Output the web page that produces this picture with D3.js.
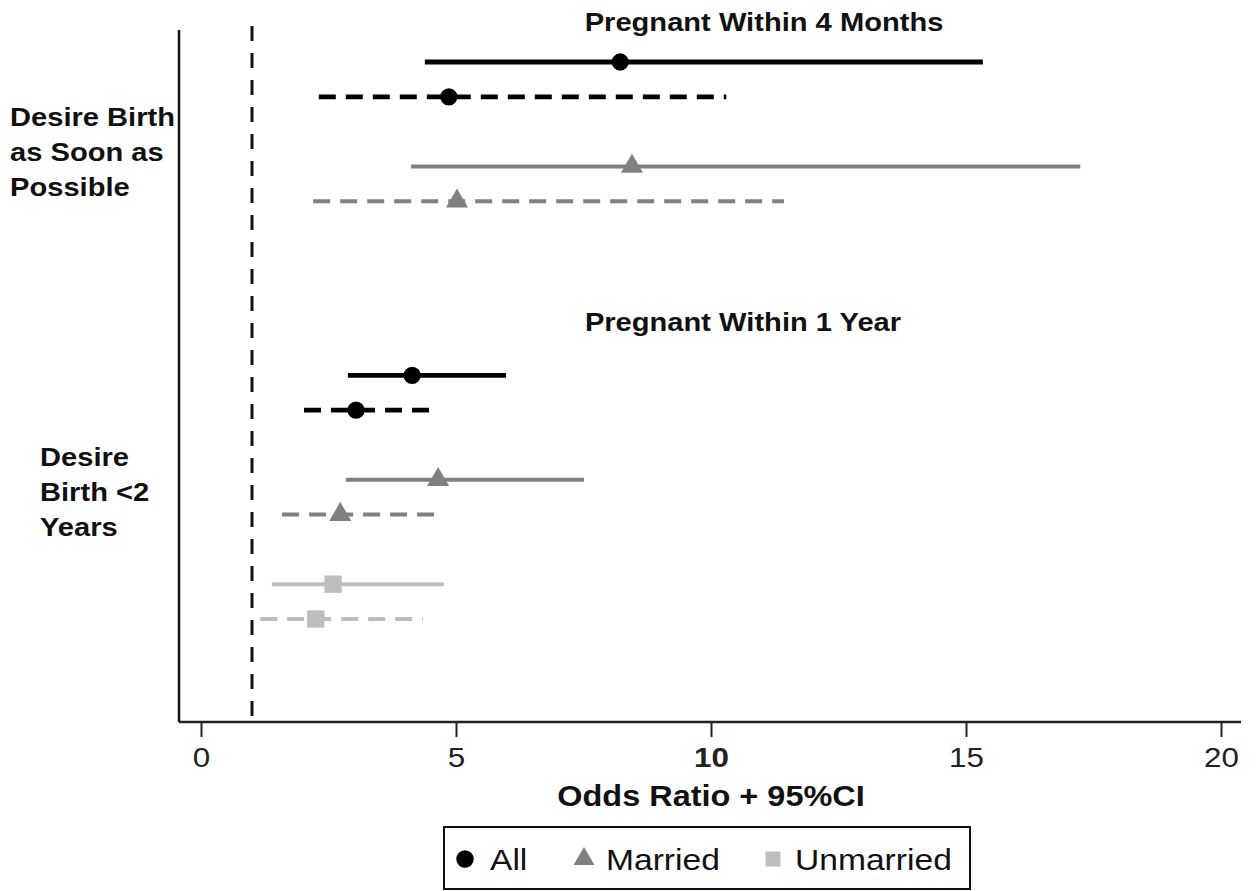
<!DOCTYPE html>
<html>
<head>
<meta charset="utf-8">
<script src="https://cdn.jsdelivr.net/npm/d3@7"></script>
<style>
  body { margin: 0; background: #fff; }
  text { font-family: "Liberation Sans", Arial, sans-serif; }
</style>
</head>
<body>
<div id="container"></div>
<script>
// DATA
const rowSlots = ['r0', 'r1', 's2', 'r2', 'r3', 's5', 's6', 's7', 's8', 'r4', 'r5', 's11', 'r6', 'r7', 's14', 'r8', 'r9'];
const rowIds = ['r0', 'r1', 'r2', 'r3', 'r4', 'r5', 'r6', 'r7', 'r8', 'r9'];
const rowGroup = ['All', 'All', 'Married', 'Married', 'All', 'All', 'Married', 'Married', 'Unmarried', 'Unmarried'];
const rowDashed = [false, true, false, true, false, true, false, true, false, true];
const oddsRatio = [8.22, 4.86, 8.45, 5.02, 4.14, 3.04, 4.65, 2.73, 2.59, 2.25];
const ciLow = [4.39, 2.31, 4.12, 2.2, 2.88, 2.02, 2.84, 1.59, 1.39, 1.16];
const ciHigh = [15.33, 10.3, 17.24, 11.43, 5.98, 4.6, 7.51, 4.7, 4.76, 4.35];
const xTicks = [0, 5, 10, 15, 20];
const groups = ['All', 'Married', 'Unmarried'];
const groupColors = ['#000000', '#808080', '#bdbdbd'];
const sectionTitles = ['Pregnant Within 4 Months', 'Pregnant Within 1 Year'];
const sideLabels = [['Desire Birth', 'as Soon as', 'Possible'], ['Desire', 'Birth <2', 'Years']];

const width = 1257, height = 891;
const SX = 1.12; // the original font runs wider than Liberation Sans
const x = d3.scaleLinear([0, 20], [201, 1221]);
const y = d3.scalePoint().domain(rowSlots).range([62, 619]);
const color = d3.scaleOrdinal(groups, groupColors);
const symbol = d3.scaleOrdinal(groups, [d3.symbolCircle, d3.symbolTriangle, d3.symbolSquare]);
const symSize = d3.scaleOrdinal(groups, [235, 210, 300]);

const rows = rowIds.map((id, i) => ({
  id, group: rowGroup[i], dashed: rowDashed[i],
  or: oddsRatio[i], lo: ciLow[i], hi: ciHigh[i]
}));

const svg = d3.select('#container').append('svg')
  .attr('width', width).attr('height', height)
  .attr('viewBox', [0, 0, width, height]);

function wideText(g, px, py) {
  return g.append('text').attr('transform', `translate(${px},${py}) scale(${SX},1)`);
}

// axes
const axisY = 722;
const xAxis = svg.append('g')
  .attr('transform', `translate(0,${axisY})`)
  .call(d3.axisBottom(x).tickValues(xTicks).tickSize(15).tickPadding(10));
xAxis.select('.domain').remove();
xAxis.selectAll('.tick line').attr('stroke', '#222').attr('stroke-width', 2);
xAxis.selectAll('.tick text')
  .attr('font-size', 28)
  .attr('fill', '#222')
  .attr('transform', `scale(${SX},1)`)
  .attr('font-weight', d => d === 10 ? 'bold' : 'normal');

svg.append('line')
  .attr('x1', 179).attr('x2', 1241).attr('y1', axisY).attr('y2', axisY)
  .attr('stroke', '#222').attr('stroke-width', 2.5);
svg.append('line')
  .attr('x1', 179).attr('x2', 179).attr('y1', 30).attr('y2', axisY)
  .attr('stroke', '#111').attr('stroke-width', 2.5);

// reference line at OR = 1
svg.append('line')
  .attr('x1', x(1)).attr('x2', x(1)).attr('y1', 26).attr('y2', axisY)
  .attr('stroke', '#111').attr('stroke-width', 3)
  .attr('stroke-dasharray', '15,12');

wideText(svg, x(10), 806)
  .attr('text-anchor', 'middle')
  .attr('font-size', 29).attr('font-weight', 'bold').attr('fill', '#111')
  .text('Odds Ratio + 95%CI');

// section titles
sectionTitles.forEach((t, i) => {
  wideText(svg, i === 0 ? 764 : 743, i === 0 ? 31 : 331)
    .attr('text-anchor', 'middle')
    .attr('font-size', 26).attr('font-weight', 'bold').attr('fill', '#111')
    .text(t);
});

// side labels
sideLabels.forEach((lines, i) => {
  wideText(svg, i === 0 ? 10 : 40, i === 0 ? 126 : 466)
    .attr('font-size', 26).attr('font-weight', 'bold').attr('fill', '#111')
    .selectAll('tspan')
    .data(lines)
    .join('tspan')
    .attr('x', 0)
    .attr('dy', (d, j) => j === 0 ? 0 : 35)
    .text(d => d);
});

// CI lines
svg.append('g').selectAll('line')
  .data(rows)
  .join('line')
  .attr('x1', d => x(d.lo)).attr('x2', d => x(d.hi))
  .attr('y1', d => y(d.id)).attr('y2', d => y(d.id))
  .attr('stroke', d => color(d.group))
  .attr('stroke-width', d => d.group === 'All' ? 4.8 : 4)
  .attr('stroke-dasharray', d => d.dashed ? '17,10' : null);

// point estimates
svg.append('g').selectAll('path')
  .data(rows)
  .join('path')
  .attr('transform', d => `translate(${x(d.or)},${y(d.id)})`)
  .attr('d', d => d3.symbol(symbol(d.group), symSize(d.group))())
  .attr('fill', d => color(d.group));

// legend
const legend = svg.append('g');
legend.append('rect')
  .attr('x', 444).attr('y', 827).attr('width', 526).attr('height', 62)
  .attr('fill', 'none').attr('stroke', '#111').attr('stroke-width', 2);
const legendX = [465, 584, 773];
const item = legend.selectAll('g.item')
  .data(groups)
  .join('g')
  .attr('transform', (d, i) => `translate(${legendX[i]},859)`);
item.append('path')
  .attr('d', d => d3.symbol(symbol(d), d === 'All' ? 240 : d === 'Married' ? 190 : 225)())
  .attr('fill', d => color(d));
item.append('text')
  .attr('transform', d => `translate(${d === 'All' ? 25 : 22},11) scale(${SX},1)`)
  .attr('font-size', 30).attr('fill', '#111')
  .text(d => d);
</script>
</body>
</html>
